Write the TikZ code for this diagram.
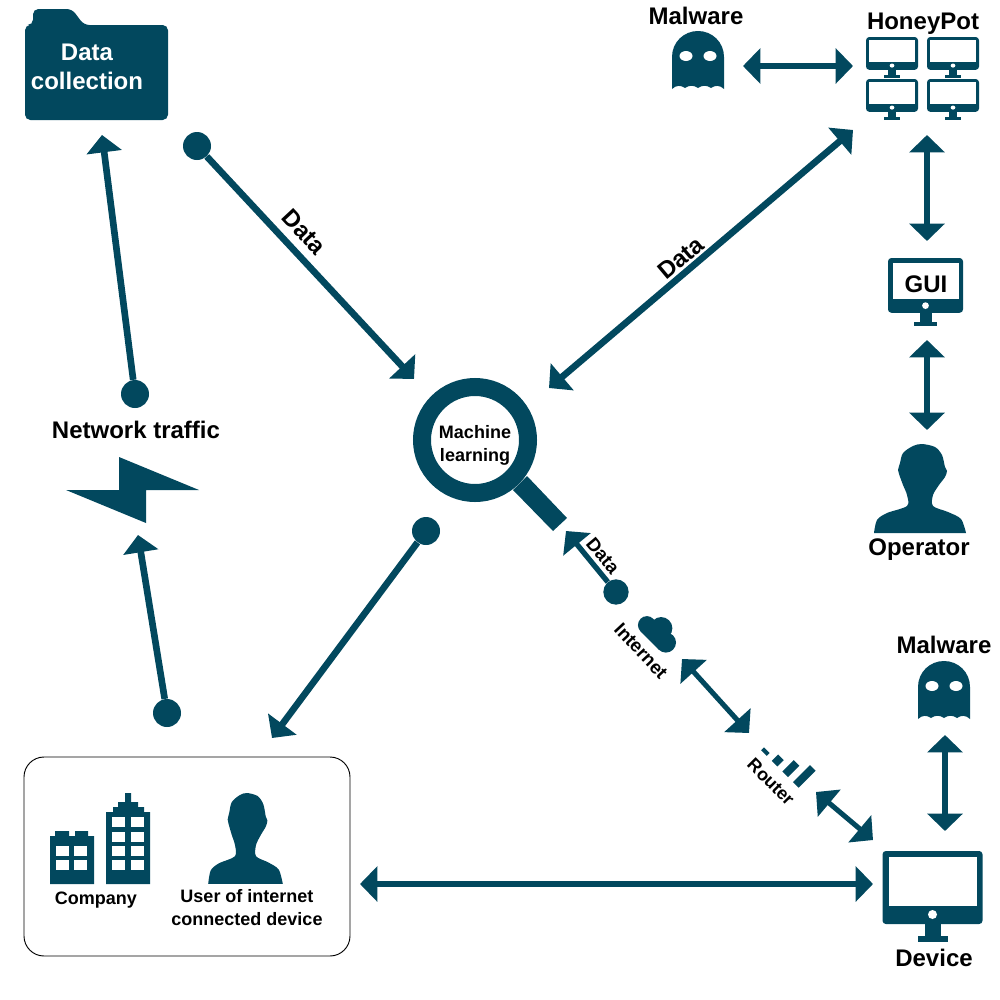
\documentclass[tikz,border=0pt]{standalone}
\usepackage{fontspec}
\setmainfont{Liberation Sans}
\usetikzlibrary{arrows.meta, positioning}
\definecolor{mlblue}{RGB}{2,72,94}
\tikzset{
x=.75pt, y=-.75pt, % one unit is one pixel of the picture, going down
tip/.tip={Triangle[length=13pt, width=26pt]},
link/.style={draw=mlblue, line width=5pt, tip-tip}, % both ways
flow/.style={draw=mlblue, line width=5pt, -tip}, % one way
thinlink/.style={link, line width=3.8pt},
thinflow/.style={flow, line width=4pt},
dot/.style={circle, fill=mlblue, minimum size=21pt, inner sep=0pt},
smalldot/.style={dot, minimum size=19pt},
bigtext/.style={font=\fontsize{18}{21.75}\selectfont\bfseries, align=center, inner sep=0pt},
smalltext/.style={font=\fontsize{13.5}{17.25}\selectfont\bfseries, align=center, inner sep=0pt},
ghosticon/.pic={
  \fill[mlblue] (-26,58) -- (-26,26) .. controls (-26,11) and (-14,0) .. (0,0)
    .. controls (14,0) and (26,11) .. (26,26) -- (26,58)
    .. controls (22,54) and (17,54) .. (13,57) .. controls (9,54) and (4,54) .. (0,57)
    .. controls (-4,54) and (-9,54) .. (-13,57) .. controls (-17,54) and (-22,54) .. (-26,58) -- cycle;
  \fill[white] (-12,25) ellipse (6.5 and 5) (12,25) ellipse (6.5 and 5);
},
screenicon/.pic={
  \fill[mlblue, rounded corners=2.5pt] (-50,0) rectangle (50,73);
  \fill[white] (-44,6) rectangle (44,55);
  \fill[white] (0,63.5) circle (4.5);
  \fill[mlblue] (-8,70) rectangle (8,88);
  \fill[mlblue] (-15,85) rectangle (15,91);
},
personicon/.pic={
  \fill[mlblue] plot[smooth, tension=.5] coordinates {(-46,89) (-43,76) (-33,69) (-13,62) (-13,51) (-17,41)
    (-21,30) (-22,26) (-20,19) (-17,9) (-7,2) (2,0) (15,3) (22,11) (25,23) (27,27) (25,33) (19,41) (13,51) (13,62) (28,68) (41,75) (46,89)} -- cycle;
},
cloudicon/.pic={
  \fill[mlblue] (-12,2) circle (8);
  \fill[mlblue] (-1,-5) circle (10);
  \fill[mlblue] (11,1) circle (9);
  \fill[mlblue] (-12,0) rectangle (11,10);
},
}

\begin{document}
\begin{tikzpicture}
    \useasboundingbox (0,0) rectangle (1000,1000);

    % data collection
    \fill[mlblue, rounded corners=4pt] (25,120) -- (25,25) -- (33,25) -- (33,9) -- (72,9) -- (84,25) -- (168,25) -- (168,120) -- cycle;
    \node[bigtext, text=white] (folder) at (87,66.5) {Data\\collection};
    \coordinate (folderIn) at (102,135);

    % machine learning
    \node[circle, draw=mlblue, line width=13.5pt, minimum size=79.5pt, inner sep=0pt] (ml) at (475,440) {};
    \node[smalltext] (mlText) at (475,445) {Machine\\learning};
    \fill[mlblue] (513,490) -- (527,476) -- (567,518) -- (553,531) -- cycle;
    \coordinate (mlNW) at (414,379);
    \coordinate (mlNE) at (549,388);
    \coordinate (mlSE) at (566,531);
    \node[dot] (mlOut) at (426,531) {};
    \node[dot] (folderOut) at (197,146) {};

    % honeypot side
    \pic (ghostTop) at (698,31) {ghosticon};
    \node[bigtext] (malwareTop) at (696,16) {Malware};
    \node[bigtext] (honeypot) at (923,24) {HoneyPot};
    \foreach \hx/\hy in {892/37, 953/37, 892/79, 953/79}
        \pic[xscale=.52, yscale=.45] at (\hx,\hy) {screenicon};
    \coordinate (ghostE) at (743,66);
    \coordinate (potW) at (853,66);
    \coordinate (potSW) at (853,130);
    \coordinate (potS) at (927,135);
    \coordinate (guiN) at (927,241);
    \pic[scale=.75] (guiScreen) at (925.5,258) {screenicon};
    \node[bigtext] (gui) at (926,284) {GUI};
    \coordinate (guiS) at (927,340);
    \coordinate (opN) at (927,430);
    \pic (opIcon) at (920,444) {personicon};
    \node[bigtext] (operator) at (919,550) {Operator};

    % network traffic
    \node[dot] (trafficOut) at (135,394) {};
    \node[bigtext] (traffic) at (136,430) {Network traffic};
    \fill[mlblue] (119,457) -- (199,490) -- (146,490) -- (146,523) -- (66,490) -- (119,490) -- cycle;
    \coordinate (trafficIn) at (138,535);

    % company and user
    \node[draw=black, line width=.7pt, rounded corners=15pt, minimum width=244.5pt, minimum height=149.25pt] (box) at (187,856.5) {};
    \node[dot] (boxOut) at (167,713) {};
    \coordinate (boxIn) at (272,738);
    \coordinate (boxE) at (360,884);
    % small building
    \fill[mlblue] (50,884) -- (50,836) -- (55,836) -- (55,831) -- (69,831) -- (69,836) -- (75,836) -- (75,831) -- (88,831) -- (88,836) -- (94,836) -- (94,884) -- cycle;
    \foreach \wx in {56,74}
        \foreach \wy in {846,860}
            \fill[white] (\wx,\wy) rectangle +(13,10);
    % tall building
    \fill[mlblue] (106,884) -- (106,812) -- (113,812) -- (113,807) -- (118,807) -- (118,802) -- (125,802) -- (125,793) -- (131,793) -- (131,802) -- (138,802) -- (138,807) -- (144,807) -- (144,812) -- (150,812) -- (150,884) -- cycle;
    \foreach \wx in {112,131}
        \foreach \wy in {817,832,846,860}
            \fill[white] (\wx,\wy) rectangle +(13,10);
    \node[smalltext] (company) at (96,900) {Company};
    \pic[xscale=.81, yscale=1.02] (userIcon) at (245.5,793) {personicon};
    \node[smalltext] (user) at (247,907.5) {User of internet\\connected device};

    % internet and router
    \node[smalldot] (dataOut) at (616,592) {};
    \node[smalltext, font=\fontsize{14}{17}\selectfont\bfseries, rotate=-50] (dataSmall) at (603,556) {Data};
    \pic[rotate=-45, scale=1.12] (cloudIcon) at (658,633) {cloudicon};
    \node[smalltext, font=\fontsize{14}{17}\selectfont\bfseries, rotate=-47] (internet) at (641,651) {Internet};
    \coordinate (cloudSE) at (682,659);
    \coordinate (routerN) at (749,733);
    \begin{scope}[shift={(764,753)}, rotate=-45]
        \fill[mlblue] (-4,0) rectangle (4,-4);
        \fill[mlblue] (11,0) rectangle (19,-9);
        \fill[mlblue] (26,0) rectangle (34,-16);
        \fill[mlblue] (41,0) rectangle (49,-24);
    \end{scope}
    \node[smalltext, rotate=-45] (router) at (771,782) {Router};
    \coordinate (routerSE) at (816,792);
    \coordinate (deviceNW) at (873,840);

    % device
    \pic (ghostLow) at (944,661) {ghosticon};
    \node[bigtext] (malwareLow) at (944,645) {Malware};
    \coordinate (ghostS) at (945,735);
    \coordinate (deviceN) at (945,831);
    \pic (deviceIcon) at (932.5,851) {screenicon};
    \node[bigtext] (device) at (934,958) {Device};
    \coordinate (deviceW) at (873,884);

    % data labels on the long lines
    \node[bigtext, rotate=-47] (dataLeft) at (304,232) {Data};
    \node[bigtext, rotate=40] (dataRight) at (681,258) {Data};

    \draw[flow] (trafficOut) -- (folderIn);
    \draw[flow] (boxOut) -- (trafficIn);
    \draw[flow] (folderOut) -- (mlNW);
    \draw[flow] (mlOut) -- (boxIn);
    \draw[link] (mlNE) -- (potSW);
    \draw[link] (ghostE) -- (potW);
    \draw[link] (potS) -- (guiN);
    \draw[link] (guiS) -- (opN);
    \draw[thinflow] (dataOut) -- (mlSE);
    \draw[thinlink] (cloudSE) -- (routerN);
    \draw[thinlink] (routerSE) -- (deviceNW);
    \draw[thinlink] (ghostS) -- (deviceN);
    \draw[link] (boxE) -- (deviceW);
\end{tikzpicture}
\end{document}
